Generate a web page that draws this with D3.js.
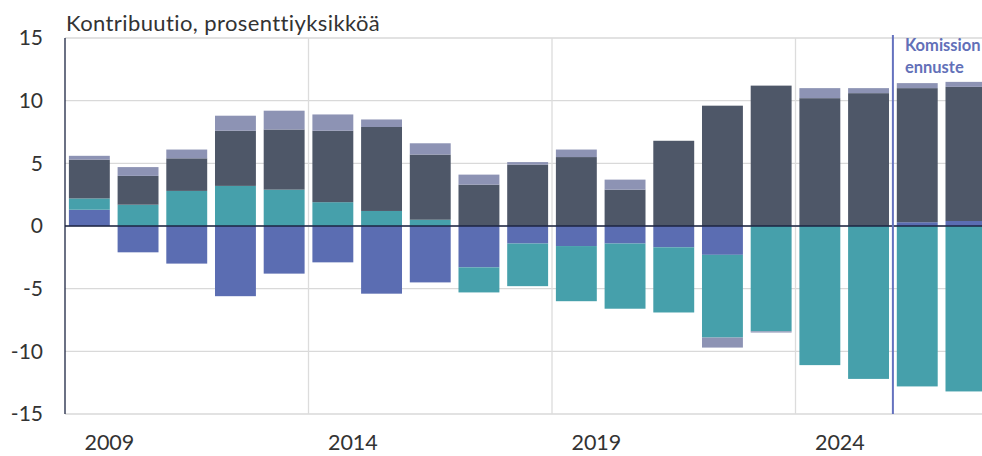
<!DOCTYPE html>
<html>
<head>
<meta charset="utf-8">
<script src="https://cdn.jsdelivr.net/npm/d3@7"></script>
<style>
  body { margin: 0; background: #fff; }
  #wrapper { width: 982px; height: 456px; overflow: hidden; }
  text { font-family: Lato, "Open Sans", sans-serif; }
</style>
</head>
<body>
<div id="wrapper"></div>
<script>
// 1. Data
const years = [2009, 2010, 2011, 2012, 2013, 2014, 2015, 2016, 2017, 2018,
    2019, 2020, 2021, 2022, 2023, 2024, 2025, 2026, 2027]

// series, bottom of the stack first
const seriesNames = ["sarja1", "sarja2", "sarja3", "sarja4"]
const sarja1 = [1.3, -2.1, -3.0, -5.6, -3.8, -2.9, -5.4, -4.5, -3.3, -1.4,
    -1.6, -1.4, -1.7, -2.3, 0, 0, 0, 0.3, 0.4]
const sarja2 = [0.9, 1.7, 2.8, 3.2, 2.9, 1.9, 1.2, 0.5, -2.0, -3.4,
    -4.4, -5.2, -5.2, -6.6, -8.4, -11.1, -12.2, -12.8, -13.2]
const sarja3 = [3.1, 2.3, 2.6, 4.4, 4.8, 5.7, 6.7, 5.2, 3.3, 4.9,
    5.5, 2.9, 6.8, 9.6, 11.2, 10.2, 10.6, 10.7, 10.7]
const sarja4 = [0.3, 0.7, 0.7, 1.2, 1.5, 1.3, 0.6, 0.9, 0.8, 0.2,
    0.6, 0.8, 0, -0.8, -0.1, 0.8, 0.4, 0.4, 0.4]

const yTicks = [-15, -10, -5, 0, 5, 10, 15]
const xTickYears = [2009, 2014, 2019, 2024]
const forecastStart = 2026

const colors = {
    sarja1: "#5b6db2",
    sarja2: "#46a0ab",
    sarja3: "#4e5768",
    sarja4: "#8d93b4",
}

const table = years.map((year, i) => ({
    year,
    sarja1: sarja1[i],
    sarja2: sarja2[i],
    sarja3: sarja3[i],
    sarja4: sarja4[i],
}))

// 2. Dimensions
let dimensions = {
    width: 982,
    height: 456,
    margin: { top: 38, left: 65, bottom: 42 },
    step: 48.7,
}
dimensions.plotBottom = dimensions.height - dimensions.margin.bottom
dimensions.plotRight = dimensions.margin.left + dimensions.step * years.length

// 3. Canvas
const svg = d3.select("#wrapper")
    .append("svg")
    .attr("width", dimensions.width)
    .attr("height", dimensions.height)

// 4. Scales
const xScale = d3.scaleBand()
    .domain(years)
    .range([dimensions.margin.left, dimensions.plotRight])
    .paddingInner(0.16)
    .paddingOuter(0.08)

const yScale = d3.scaleLinear()
    .domain([-15, 15])
    .range([dimensions.plotBottom, dimensions.margin.top])

const gapLeft = year => xScale(year) - xScale.step() * xScale.paddingInner() / 2

// 5. Grid
svg.append("g")
    .selectAll("line")
    .data(yTicks)
    .join("line")
    .attr("x1", dimensions.margin.left)
    .attr("x2", dimensions.width)
    .attr("y1", d => yScale(d))
    .attr("y2", d => yScale(d))
    .attr("stroke", "#d9d9d9")
    .attr("stroke-width", 1.3)

svg.append("g")
    .selectAll("line")
    .data(xTickYears.slice(1))
    .join("line")
    .attr("x1", d => gapLeft(d))
    .attr("x2", d => gapLeft(d))
    .attr("y1", yScale(15))
    .attr("y2", yScale(-15))
    .attr("stroke", "#dcdcdc")
    .attr("stroke-width", 1.3)

// 6. Bars
const stack = d3.stack()
    .keys(seriesNames)
    .offset(d3.stackOffsetDiverging)

const layers = stack(table)

svg.append("g")
    .selectAll("g")
    .data(layers)
    .join("g")
    .attr("fill", d => colors[d.key])
    .selectAll("rect")
    .data(d => d)
    .join("rect")
    .attr("x", d => xScale(d.data.year))
    .attr("width", xScale.bandwidth())
    .attr("y", d => yScale(Math.max(d[0], d[1])))
    .attr("height", d => Math.abs(yScale(d[0]) - yScale(d[1])))

// 7. Axes
svg.append("line")
    .attr("x1", dimensions.margin.left)
    .attr("x2", dimensions.width)
    .attr("y1", yScale(0))
    .attr("y2", yScale(0))
    .attr("stroke", "#1c2542")
    .attr("stroke-width", 1.5)

svg.append("line")
    .attr("x1", dimensions.margin.left)
    .attr("x2", dimensions.margin.left)
    .attr("y1", yScale(15))
    .attr("y2", yScale(-15))
    .attr("stroke", "#1c2542")
    .attr("stroke-width", 1.3)

// plain hyphen for negatives, like the original
const yAxis = svg.append("g")
    .attr("transform", `translate(${dimensions.margin.left - 22}, 0)`)
    .call(d3.axisLeft(yScale)
        .tickValues(yTicks)
        .tickFormat(d => String(d))
        .tickSize(0)
        .tickPadding(0))
yAxis.select(".domain").remove()
yAxis.selectAll("text")
    .style("font-family", "Lato, sans-serif")
    .style("font-size", "21px")
    .attr("fill", "#333")

const xAxis = svg.append("g")
    .attr("transform", `translate(0, ${dimensions.plotBottom})`)
    .call(d3.axisBottom(xScale).tickValues(xTickYears).tickSize(0).tickPadding(21))
xAxis.select(".domain").remove()
xAxis.selectAll("text")
    .attr("dx", 20)
    .style("font-family", "Lato, sans-serif")
    .style("font-size", "21.5px")
    .attr("fill", "#333")

// 8. Labels
svg.append("text")
    .attr("x", dimensions.margin.left + 1)
    .attr("y", 31)
    .style("font-size", "22px")
    .style("letter-spacing", "0.4px")
    .attr("fill", "#333")
    .text("Kontribuutio, prosenttiyksikköä")

svg.append("line")
    .attr("x1", gapLeft(forecastStart))
    .attr("x2", gapLeft(forecastStart))
    .attr("y1", 35)
    .attr("y2", yScale(-15))
    .attr("stroke", "#6572bf")
    .attr("stroke-width", 2)

const forecastLabel = svg.append("text")
    .attr("x", gapLeft(forecastStart) + 12)
    .attr("y", 51)
    .style("font-size", "16.5px")
    .style("font-weight", "bold")
    .attr("fill", "#6270b8")
forecastLabel.append("tspan").text("Komission")
forecastLabel.append("tspan")
    .attr("x", gapLeft(forecastStart) + 12)
    .attr("dy", 22)
    .text("ennuste")
</script>
</body>
</html>
